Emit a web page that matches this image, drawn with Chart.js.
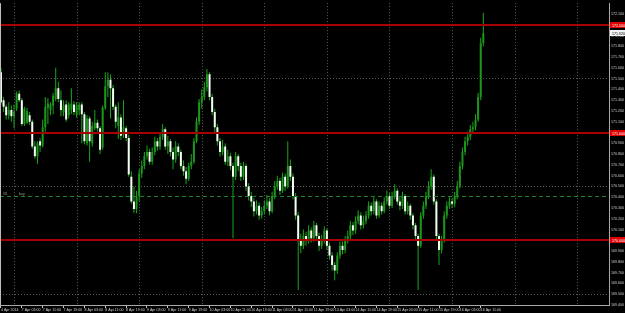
<!DOCTYPE html>
<html>
<head>
<meta charset="utf-8">
<script src="https://cdn.jsdelivr.net/npm/chart.js@4.4.0/dist/chart.umd.min.js"></script>
<style>
  html, body { margin: 0; padding: 0; background: #000; }
  canvas { display: block; }
</style>
</head>
<body>
<canvas id="priceChart" width="625" height="313"></canvas>
<script>
// H1 candles, 4 Apr 2014 19:00 -> 16 Apr 2014 12:00
const tickLabels = [
  "4 Apr 2014", "7 Apr 03:00", "7 Apr 11:00", "7 Apr 19:00", "8 Apr 03:00",
  "8 Apr 11:00", "8 Apr 19:00", "9 Apr 03:00", "9 Apr 11:00", "9 Apr 19:00",
  "10 Apr 03:00", "10 Apr 11:00", "10 Apr 19:00", "11 Apr 03:00", "11 Apr 11:00",
  "11 Apr 19:00", "14 Apr 03:00", "14 Apr 11:00", "14 Apr 19:00", "15 Apr 03:00",
  "15 Apr 11:00", "15 Apr 19:00", "16 Apr 03:00", "16 Apr 11:00",
];
const barsPerTick = 8;
const dayStarts = [5, 29, 53, 77, 101, 125, 149, 173, 197, 221];

const opens = [
  171.56, 171.30, 171.24, 171.16, 171.21, 171.15, 171.22, 171.36, 171.30, 171.08,
  171.09, 171.16, 171.10, 170.87, 170.78, 170.92, 170.88, 171.05, 171.23, 171.21,
  171.25, 171.31, 171.41, 171.30, 171.19, 171.26, 171.16, 171.21, 171.26, 171.17,
  171.21, 171.26, 171.17, 170.90, 171.13, 170.90, 171.04, 171.09, 171.04, 170.86,
  171.23, 171.43, 171.49, 171.41, 171.24, 171.06, 171.14, 170.98, 171.04, 170.95,
  170.59, 170.36, 170.29, 170.41, 170.62, 170.69, 170.78, 170.82, 170.73, 170.82,
  170.92, 170.87, 170.96, 171.03, 170.87, 170.92, 170.82, 170.75, 170.87, 170.82,
  170.69, 170.64, 170.57, 170.69, 170.73, 170.92, 171.10, 171.28, 171.33, 171.42,
  171.54, 171.33, 171.19, 171.05, 170.92, 170.82, 170.87, 170.73, 170.78, 170.69,
  170.59, 170.78, 170.69, 170.59, 170.69, 170.50, 170.41, 170.36, 170.27, 170.32,
  170.23, 170.27, 170.32, 170.36, 170.27, 170.41, 170.50, 170.55, 170.46, 170.59,
  170.50, 170.69, 170.59, 170.41, 170.23, 170.00, 169.95, 170.04, 170.00, 170.09,
  170.02, 170.14, 170.04, 169.95, 170.00, 170.09, 169.95, 169.86, 169.77, 169.72,
  169.86, 169.95, 169.91, 170.00, 170.04, 170.14, 170.09, 170.18, 170.23, 170.14,
  170.18, 170.23, 170.32, 170.27, 170.36, 170.23, 170.32, 170.27, 170.36, 170.41,
  170.32, 170.41, 170.46, 170.36, 170.32, 170.41, 170.27, 170.32, 170.23, 170.14,
  170.04, 169.95, 170.23, 170.32, 170.41, 170.50, 170.59, 170.36, 170.04, 169.91,
  170.00, 170.23, 170.32, 170.36, 170.34, 170.41, 170.50, 170.69, 170.82, 170.92,
  170.96, 171.03, 171.05, 171.12, 171.33, 171.83,
];
const highs = [
  171.60, 171.33, 171.26, 171.28, 171.25, 171.26, 171.38, 171.39, 171.32, 171.24,
  171.23, 171.19, 171.12, 170.92, 170.92, 170.95, 171.12, 171.33, 171.32, 171.28,
  171.37, 171.60, 171.47, 171.39, 171.30, 171.30, 171.28, 171.41, 171.29, 171.28,
  171.28, 171.28, 171.19, 171.16, 171.15, 171.10, 171.21, 171.12, 171.06, 171.25,
  171.56, 171.56, 171.54, 171.44, 171.26, 171.28, 171.17, 171.30, 171.06, 170.98,
  170.64, 170.50, 170.46, 170.66, 170.74, 170.82, 170.88, 170.85, 170.86, 170.96,
  170.95, 171.00, 171.08, 171.05, 170.97, 170.94, 170.86, 170.92, 170.90, 170.84,
  170.74, 170.68, 170.72, 170.80, 170.95, 171.14, 171.31, 171.40, 171.47, 171.59,
  171.56, 171.36, 171.22, 171.08, 170.95, 170.93, 170.90, 170.84, 170.81, 170.72,
  170.82, 170.80, 170.72, 170.73, 170.71, 170.53, 170.45, 170.39, 170.37, 170.35,
  170.31, 170.37, 170.42, 170.39, 170.45, 170.55, 170.60, 170.58, 170.63, 170.62,
  170.92, 170.75, 170.62, 170.44, 170.26, 170.06, 170.10, 170.08, 170.14, 170.12,
  170.18, 170.16, 170.07, 170.05, 170.13, 170.11, 169.98, 169.89, 169.80, 169.89,
  169.99, 169.99, 170.04, 170.09, 170.18, 170.17, 170.22, 170.28, 170.26, 170.23,
  170.27, 170.36, 170.35, 170.40, 170.38, 170.36, 170.35, 170.40, 170.46, 170.44,
  170.45, 170.52, 170.48, 170.40, 170.45, 170.43, 170.36, 170.34, 170.25, 170.16,
  170.06, 170.26, 170.36, 170.45, 170.55, 170.66, 170.61, 170.38, 170.06, 170.04,
  170.27, 170.36, 170.40, 170.39, 170.45, 170.55, 170.73, 170.86, 170.96, 171.01,
  171.07, 171.10, 171.17, 171.37, 171.88, 172.11,
];
const lows = [
  171.26, 171.19, 171.12, 171.12, 171.10, 171.04, 171.20, 171.28, 171.06, 171.06,
  171.08, 171.07, 170.85, 170.76, 170.71, 170.82, 170.86, 171.01, 171.08, 171.16,
  171.17, 171.29, 171.28, 171.15, 171.15, 171.10, 171.13, 171.17, 171.16, 171.14,
  171.16, 170.90, 170.89, 170.88, 170.73, 170.87, 171.02, 171.01, 170.80, 170.84,
  171.21, 171.33, 171.13, 171.21, 171.04, 170.94, 170.93, 170.95, 170.92, 170.59,
  170.34, 170.25, 170.25, 170.36, 170.58, 170.66, 170.75, 170.70, 170.70, 170.79,
  170.83, 170.84, 170.93, 170.84, 170.80, 170.78, 170.66, 170.72, 170.78, 170.66,
  170.60, 170.52, 170.55, 170.66, 170.71, 170.90, 171.07, 171.22, 171.30, 171.38,
  171.30, 171.16, 171.00, 170.88, 170.78, 170.79, 170.70, 170.69, 170.65, 170.02,
  170.56, 170.64, 170.55, 170.56, 170.46, 170.37, 170.31, 170.22, 170.24, 170.19,
  170.20, 170.24, 170.29, 170.23, 170.25, 170.38, 170.47, 170.42, 170.44, 170.46,
  170.48, 170.55, 170.38, 170.19, 169.54, 169.88, 169.92, 169.95, 169.97, 169.98,
  169.99, 170.00, 169.90, 169.92, 169.97, 169.91, 169.82, 169.72, 169.63, 169.69,
  169.83, 169.87, 169.88, 169.97, 170.01, 170.05, 170.06, 170.15, 170.10, 170.11,
  170.15, 170.20, 170.23, 170.24, 170.20, 170.21, 170.24, 170.25, 170.33, 170.29,
  170.30, 170.38, 170.33, 170.28, 170.29, 170.24, 170.24, 170.19, 170.10, 170.00,
  169.54, 169.93, 170.20, 170.29, 170.38, 170.47, 170.33, 170.01, 169.77, 169.88,
  169.98, 170.20, 170.29, 170.30, 170.31, 170.38, 170.48, 170.66, 170.79, 170.88,
  170.93, 170.99, 171.02, 171.10, 171.30, 171.80,
];
const closes = [
  171.28, 171.24, 171.16, 171.21, 171.15, 171.19, 171.36, 171.30, 171.08, 171.22,
  171.20, 171.10, 170.87, 170.78, 170.90, 170.88, 171.05, 171.24, 171.27, 171.26,
  171.34, 171.41, 171.31, 171.21, 171.25, 171.12, 171.26, 171.27, 171.19, 171.25,
  171.26, 171.17, 170.92, 171.13, 170.92, 171.06, 171.09, 171.04, 170.84, 171.23,
  171.43, 171.49, 171.41, 171.24, 171.10, 171.14, 170.97, 171.05, 170.95, 170.61,
  170.36, 170.29, 170.41, 170.62, 170.69, 170.78, 170.82, 170.73, 170.82, 170.92,
  170.87, 170.96, 171.03, 170.87, 170.92, 170.82, 170.75, 170.87, 170.82, 170.69,
  170.64, 170.57, 170.69, 170.73, 170.92, 171.10, 171.28, 171.33, 171.42, 171.54,
  171.33, 171.19, 171.05, 170.92, 170.82, 170.87, 170.73, 170.78, 170.69, 170.59,
  170.78, 170.69, 170.59, 170.69, 170.50, 170.41, 170.36, 170.27, 170.32, 170.23,
  170.27, 170.32, 170.36, 170.27, 170.41, 170.50, 170.55, 170.46, 170.59, 170.50,
  170.69, 170.59, 170.41, 170.23, 170.00, 169.95, 170.04, 170.00, 170.09, 170.02,
  170.14, 170.04, 169.95, 170.00, 170.09, 169.95, 169.86, 169.77, 169.72, 169.86,
  169.95, 169.91, 170.00, 170.04, 170.14, 170.09, 170.18, 170.23, 170.14, 170.18,
  170.23, 170.32, 170.27, 170.36, 170.23, 170.32, 170.27, 170.36, 170.41, 170.32,
  170.41, 170.46, 170.36, 170.32, 170.41, 170.27, 170.32, 170.23, 170.14, 170.04,
  169.95, 170.23, 170.32, 170.41, 170.50, 170.59, 170.36, 170.04, 169.91, 170.00,
  170.23, 170.32, 170.36, 170.34, 170.41, 170.50, 170.69, 170.82, 170.92, 170.96,
  171.03, 171.05, 171.12, 171.33, 171.83, 171.92,
];

// horizontal lines drawn on the chart
const roundLevels = [172.0, 171.0, 170.0];
const orderLevel = 170.41;
const bidLevel = 171.92;

const FONT = { family: "Liberation Sans", size: 3.6 };

const isRound = function (v) {
  return roundLevels.some(function (r) { return Math.abs(r - v) < 1e-6; });
};

const mtOverlay = {
  id: "mtOverlay",
  beforeDraw(chart) {
    const c = chart.ctx;
    c.save();
    c.fillStyle = "#000";
    c.fillRect(0, 0, chart.width, chart.height);
    c.restore();
  },
  beforeDatasetsDraw(chart) {
    const c = chart.ctx;
    const a = chart.chartArea;
    const x = chart.scales.x;
    c.save();
    c.strokeStyle = "#5c5c5c";
    c.lineWidth = 1;
    c.setLineDash([1, 2]);
    dayStarts.forEach(function (d) {
      const px = Math.round(x.getPixelForValue(d)) + 0.5;
      c.beginPath();
      c.moveTo(px, a.top);
      c.lineTo(px, a.bottom);
      c.stroke();
    });
    c.restore();
  },
  afterDraw(chart) {
    const c = chart.ctx;
    const a = chart.chartArea;
    const y = chart.scales.y;
    c.save();
    // order line
    const oy = Math.round(y.getPixelForValue(orderLevel)) + 0.5;
    c.strokeStyle = "#23802a";
    c.lineWidth = 1;
    c.setLineDash([4, 3]);
    c.beginPath();
    c.moveTo(a.left, oy);
    c.lineTo(a.right, oy);
    c.stroke();
    c.setLineDash([]);
    c.font = FONT.size + "px " + FONT.family;
    c.textBaseline = "bottom";
    c.fillStyle = "#d8d8d8";
    c.fillText("#1", a.left + 3, oy - 0.5);
    c.fillStyle = "#9a9a9a";
    c.fillText("buy", a.left + 19, oy - 0.5);
    // round number lines
    c.fillStyle = "#a60000";
    roundLevels.forEach(function (v) {
      const ly = Math.round(y.getPixelForValue(v));
      c.fillRect(a.left, ly - 1, a.right - a.left, 2);
    });
    // window border
    c.fillStyle = "#bdbdbd";
    c.fillRect(0, a.top, 1, a.bottom - a.top);
    // price boxes on the axis
    c.textBaseline = "middle";
    roundLevels.forEach(function (v) {
      const ly = Math.round(y.getPixelForValue(v));
      c.fillStyle = "#e00000";
      c.fillRect(a.right + 1, ly - 3, chart.width - a.right - 1, 6);
      c.fillStyle = "#ffffff";
      c.fillText(v.toFixed(3), a.right + 3, ly + 0.5);
    });
    const by = Math.round(y.getPixelForValue(bidLevel));
    c.fillStyle = "#f2f2f2";
    c.fillRect(a.right + 1, by - 3, chart.width - a.right - 1, 6);
    c.fillStyle = "#000000";
    c.fillText(bidLevel.toFixed(3), a.right + 3, by + 0.5);
    c.restore();
  },
};

document.addEventListener("DOMContentLoaded", function () {
  const ctx = document.getElementById("priceChart").getContext("2d");
  const wicks = closes.map(function (_, i) {
    return { x: i, y: [lows[i], highs[i]] };
  });
  const bodies = closes.map(function (cl, i) {
    return { x: i, y: [opens[i], cl] };
  });
  const priceChart = new Chart(ctx, {
    type: "bar",
    data: {
      datasets: [
        {
          label: "body",
          data: bodies,
          order: 0,
          grouped: false,
          barThickness: 2,
          minBarLength: 1,
          inflateAmount: 0,
          backgroundColor: function (c) {
            const i = c.dataIndex;
            return closes[i] < opens[i] ? "#f4fff4" : "#1c961c";
          },
        },
        {
          label: "wick",
          data: wicks,
          order: 1,
          grouped: false,
          barThickness: 1,
          inflateAmount: 0,
          backgroundColor: "#19a819",
        },
      ],
    },
    options: {
      responsive: false,
      animation: false,
      devicePixelRatio: 1,
      layout: { padding: 0 },
      plugins: {
        legend: { display: false },
        tooltip: { enabled: false },
      },
      scales: {
        x: {
          type: "linear",
          min: -0.37,
          max: 233.2,
          offset: false,
          afterBuildTicks: function (s) {
            s.ticks = tickLabels.map(function (_, k) {
              return { value: k * barsPerTick };
            });
          },
          afterFit: function (s) {
            s.height = 8;
          },
          ticks: {
            autoSkip: false,
            maxRotation: 0,
            align: "start",
            padding: 0,
            color: "#d0d0d0",
            font: FONT,
            callback: function (v, k) {
              return tickLabels[k];
            },
          },
          grid: {
            offset: false,
            drawOnChartArea: false,
            tickLength: 3,
            tickColor: "#c8c8c8",
          },
          border: { color: "#a8a8a8" },
        },
        y: {
          position: "right",
          min: 169.4,
          max: 172.2,
          afterFit: function (s) {
            s.width = 16;
          },
          ticks: {
            stepSize: 0.1,
            padding: 1,
            color: "#d0d0d0",
            font: FONT,
            callback: function (v) {
              return v > 172.15 ? "" : v.toFixed(3);
            },
          },
          grid: {
            tickLength: 1,
            tickColor: "#a8a8a8",
            color: function (c) {
              const v = c.tick.value;
              const half = Math.abs(v * 2 - Math.round(v * 2)) < 1e-6;
              return half && !isRound(v) ? "#575757" : "rgba(0,0,0,0)";
            },
          },
          border: { color: "#a8a8a8", dash: [1, 2] },
        },
      },
    },
    plugins: [mtOverlay],
  });
});
</script>
</body>
</html>
